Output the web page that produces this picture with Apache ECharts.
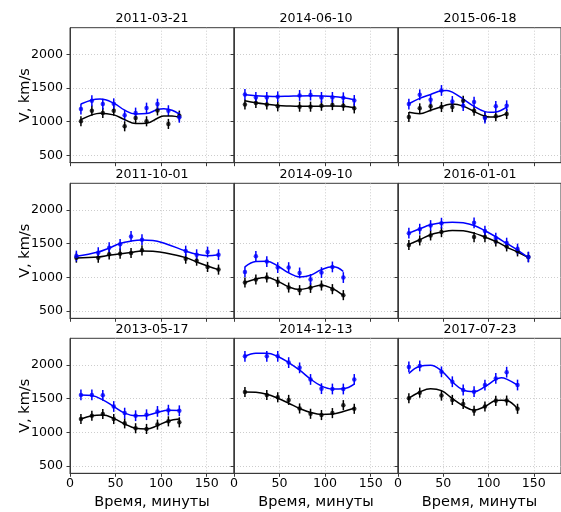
<!DOCTYPE html>
<html><head><meta charset="utf-8">
<script src="https://cdn.jsdelivr.net/npm/echarts@6/dist/echarts.min.js"></script>
<style>html,body{margin:0;padding:0;background:#fff}#c{width:561px;height:512px}</style>
</head><body><div id="c"></div>
<script>
const titles = ['2011-03-21','2014-06-10','2015-06-18','2011-10-01','2014-09-10','2016-01-01','2013-05-17','2014-12-13','2017-07-23'];
const xTicks = [0, 50, 100, 150];
const yTicks = [500, 1000, 1500, 2000];
const errBlue = 80;
const errBlack = 75;

const p1X = [12,24,36,48,60,72,84,96,108,120];
const p1Blue = [1187,1310,1261,1266,1094,1128,1202,1261,1163,1064];
const p1Black = [1005,1163,1128,1163,931,1054,1005,1167,966,1089];
const p1FitX = [12,24,33,48,60,72,84,96,103,112,120];
const p1FitBlue = [1261,1322,1335,1275,1170,1113,1120,1180,1193,1170,1110];
const p1FitBlack = [1030,1100,1126,1100,1030,972,975,1050,1085,1082,1065];

const p2X = [12,24,36,48,72,84,96,108,120,132];
const p2Blue = [1404,1360,1360,1369,1389,1394,1360,1360,1355,1315];
const p2Black = [1256,1276,1256,1227,1222,1222,1236,1246,1236,1197];
const p2FitX = [12,24,36,48,60,72,84,96,108,120,132];
const p2FitBlue = [1400,1385,1378,1375,1378,1382,1383,1380,1372,1355,1325];
const p2FitBlack = [1310,1280,1258,1240,1232,1228,1228,1230,1232,1228,1205];

const p3X = [12,24,36,48,60,72,84,96,108,120];
const p3Blue = [1261,1399,1325,1463,1300,1236,1291,1054,1227,1236];
const p3Black = [1069,1197,1227,1217,1217,1310,1163,1069,1079,1113];
const p3FitX = [12,24,36,48,54,60,72,84,96,102,108,120];
const p3FitBlue = [1266,1345,1404,1458,1463,1438,1335,1227,1148,1138,1143,1217];
const p3FitBlack = [1138,1118,1170,1222,1250,1262,1230,1150,1080,1068,1070,1118];

const p4X = [7,31,43,55,67,79,127,139,151,163];
const p4Blue = [1315,1365,1438,1488,1606,1557,1389,1335,1374,1335];
const p4Black = [1291,1291,1340,1350,1360,1399,1276,1246,1153,1113];
const p4FitX = [7,31,43,55,67,79,91,105,127,139,151,163];
const p4FitBlue = [1310,1374,1433,1502,1537,1552,1547,1498,1389,1340,1320,1335];
const p4FitBlack = [1286,1300,1325,1350,1369,1389,1384,1360,1291,1227,1167,1113];

const p5X = [12,24,36,48,60,72,84,96,108,120];
const p5Blue = [1079,1310,1232,1143,1143,1064,966,1069,1153,995];
const p5Black = [921,966,995,931,847,808,842,877,823,734];
const p5FitX = [12,24,36,48,60,72,84,96,108,114,120];
const p5FitBlue = [1153,1232,1236,1167,1064,1005,1030,1113,1155,1140,1085];
const p5FitBlack = [921,975,995,941,857,818,847,882,833,785,729];

const p6X = [12,24,36,48,84,96,108,120,132,144];
const p6Blue = [1655,1714,1768,1803,1808,1685,1581,1507,1419,1300];
const p6Black = [1478,1547,1621,1670,1596,1596,1532,1458,1384,1300];
const p6FitX = [12,24,36,48,60,72,84,96,108,120,132,144];
const p6FitBlue = [1655,1719,1778,1808,1818,1808,1768,1690,1601,1502,1404,1291];
const p6FitBlack = [1488,1557,1631,1670,1695,1690,1655,1596,1532,1448,1374,1291];

const p7X = [12,24,36,48,60,72,84,96,108,120];
const p7Blue = [1554,1554,1549,1382,1284,1245,1260,1309,1328,1319];
const p7Black = [1196,1245,1270,1196,1132,1059,1049,1113,1162,1147];
const p7FitX = [12,24,36,48,60,72,84,96,108,120];
const p7FitBlue = [1554,1544,1480,1382,1284,1245,1250,1294,1328,1323];
const p7FitBlack = [1196,1245,1255,1206,1123,1059,1049,1098,1167,1196];

const p8X = [12,36,48,60,72,84,96,108,120,132];
const p8Blue = [2127,2127,2127,2034,1956,1784,1647,1642,1642,1784];
const p8Black = [1598,1554,1519,1480,1353,1274,1255,1284,1402,1348];
const p8FitX = [12,24,36,48,60,72,84,96,108,120,132];
const p8FitBlue = [2127,2172,2172,2125,2034,1921,1789,1686,1642,1647,1716];
const p8FitBlack = [1598,1593,1564,1505,1431,1353,1294,1265,1270,1309,1357];

const p9X = [12,24,48,60,72,84,96,108,120,132];
const p9Blue = [1970,1985,1897,1750,1627,1603,1701,1799,1892,1701];
const p9Black = [1505,1588,1544,1480,1421,1319,1382,1466,1470,1348];
const p9FitX = [12,24,36,48,60,72,84,96,108,114,120,132];
const p9FitBlue = [1872,1980,1995,1912,1750,1627,1603,1676,1784,1809,1789,1701];
const p9FitBlack = [1505,1598,1647,1617,1500,1392,1328,1382,1470,1475,1470,1348];

const panels = [
  [p1X,p1Blue,p1Black,p1FitX,p1FitBlue,p1FitBlack],
  [p2X,p2Blue,p2Black,p2FitX,p2FitBlue,p2FitBlack],
  [p3X,p3Blue,p3Black,p3FitX,p3FitBlue,p3FitBlack],
  [p4X,p4Blue,p4Black,p4FitX,p4FitBlue,p4FitBlack],
  [p5X,p5Blue,p5Black,p5FitX,p5FitBlue,p5FitBlack],
  [p6X,p6Blue,p6Black,p6FitX,p6FitBlue,p6FitBlack],
  [p7X,p7Blue,p7Black,p7FitX,p7FitBlue,p7FitBlack],
  [p8X,p8Blue,p8Black,p8FitX,p8FitBlue,p8FitBlack],
  [p9X,p9Blue,p9Black,p9FitX,p9FitBlue,p9FitBlack]
];

const FONT = 'DejaVu Sans';
const lefts = [70, 234, 398];
const tops = [27.7, 183.3, 338.3];
const W = 164, H = 135;
const BLUE = '#0000ff', BLACK = '#000000', AX = '#3a3a3a';
const plain = v => String(v);

const grids = [], xAxes = [], yAxes = [], series = [], graphics = [];
panels.forEach((p, i) => {
  const r = Math.floor(i / 3), c = i % 3;
  grids.push({left: lefts[c], top: tops[r], width: W, height: H, show: true, borderColor: AX, borderWidth: 1, backgroundColor: 'transparent'});
  xAxes.push({
    gridIndex: i, type: 'value', min: 0, max: 180,
    axisLine: {show: true, lineStyle: {color: AX, width: 1}},
    axisTick: {show: true, length: 3.5, customValues: xTicks, lineStyle: {color: AX}},
    axisLabel: {show: r === 2, customValues: xTicks, formatter: plain, fontSize: 12.6, fontFamily: FONT, color: '#000', margin: 4},
    splitLine: {show: true, lineStyle: {type: [1, 2], color: '#c0c0c0', width: 0.8}},
    name: r === 2 ? 'Время, минуты' : '', nameLocation: 'middle', nameGap: 21,
    nameTextStyle: {fontSize: 14.5, fontFamily: FONT, color: '#000'}
  });
  yAxes.push({
    gridIndex: i, type: 'value', min: 390, max: 2395,
    axisLine: {show: true, lineStyle: {color: AX, width: 1}},
    axisTick: {show: true, length: 3.5, customValues: yTicks, lineStyle: {color: AX}},
    axisLabel: {show: c === 0, customValues: yTicks, formatter: plain, fontSize: 12.6, fontFamily: FONT, color: '#000', margin: 7},
    splitLine: {show: true, lineStyle: {type: [1, 2], color: '#c0c0c0', width: 0.8}}
  });
  graphics.push({type: 'text', x: lefts[c] + W / 2, y: tops[r] - 8.7,
    style: {text: titles[i], fontSize: 12.6, fontFamily: FONT, fill: '#000', align: 'center', verticalAlign: 'middle'}});
  if (c === 0) {
    graphics.push({type: 'text', x: 25, y: tops[r] + H / 2, rotation: Math.PI / 2,
      style: {text: 'V, km/s', fontSize: 14.5, fontFamily: FONT, fill: '#000', align: 'center', verticalAlign: 'middle'}});
  }

  const [xs, bl, bk, fx, fb, fk] = p;
  const err = (ys, e, color) => ({
    type: 'custom', xAxisIndex: i, yAxisIndex: i, silent: true,
    data: xs.map((x, k) => [x, ys[k], e]),
    encode: {x: 0, y: 1},
    renderItem: (params, api) => {
      const x = api.value(0), y = api.value(1), d = api.value(2);
      const a = api.coord([x, y - d]), b = api.coord([x, y + d]);
      return {type: 'line', shape: {x1: a[0], y1: a[1], x2: b[0], y2: b[1]}, style: {stroke: color, lineWidth: 1.5}};
    }
  });
  const line = (ys, color) => ({
    type: 'line', xAxisIndex: i, yAxisIndex: i, smooth: 0.4, showSymbol: false, silent: true,
    data: fx.map((x, k) => [x, ys[k]]), lineStyle: {color: color, width: 1.5}, z: 3
  });
  const pts = (ys, color) => ({
    type: 'scatter', xAxisIndex: i, yAxisIndex: i, symbolSize: 4.5, silent: true,
    data: xs.map((x, k) => [x, ys[k]]), itemStyle: {color: color}, z: 4
  });
  series.push(line(fk, BLACK), line(fb, BLUE), err(bk, errBlack, BLACK), err(bl, errBlue, BLUE), pts(bk, BLACK), pts(bl, BLUE));
});

const chart = echarts.init(document.getElementById('c'), null, {renderer: 'canvas'});
chart.setOption({
  animation: false,
  backgroundColor: '#fff',
  grid: grids, xAxis: xAxes, yAxis: yAxes, series: series, graphic: graphics
});
</script></body></html>
